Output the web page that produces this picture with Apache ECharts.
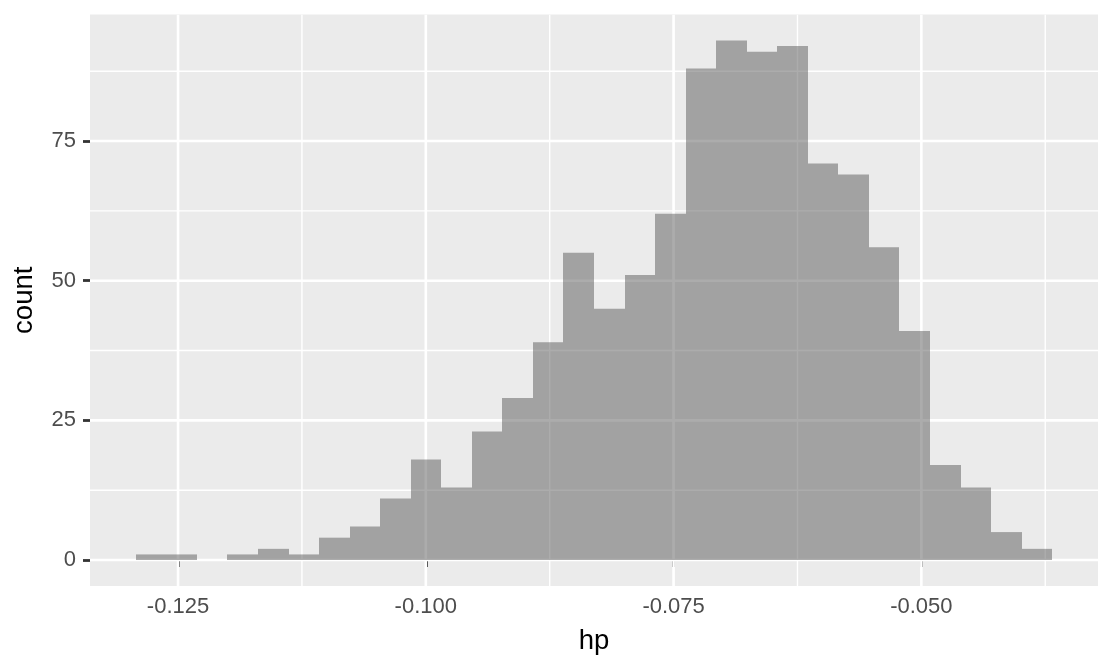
<!DOCTYPE html>
<html>
<head>
<meta charset="utf-8">
<script src="https://cdn.jsdelivr.net/npm/echarts@6/dist/echarts.min.js"></script>
<style>
  html, body { margin: 0; padding: 0; background: #ffffff; }
  #chart { width: 1113px; height: 672px; }
</style>
</head>
<body>
<div id="chart"></div>
<script>
// ---- data ----
const binStart = -0.12926;   // left edge of first bin
const binWidth = 0.003082;   // histogram bin width
const counts = [1, 1, 0, 1, 2, 1, 4, 6, 11, 18, 13, 23, 29, 39, 55, 45, 51, 62, 88, 93, 91, 92, 71, 69, 56, 41, 17, 13, 5, 2];
const xTicks = [-0.125, -0.100, -0.075, -0.050];
const xTickLabels = ['-0.125', '-0.100', '-0.075', '-0.050'];
const xMinorGrid = [-0.1125, -0.0875, -0.0625, -0.0375];
const yTicks = [0, 25, 50, 75];
const yTickLabels = ['0', '25', '50', '75'];
const yMinorGrid = [12.5, 37.5, 62.5, 87.5];

// ---- derived axis ranges (ggplot-style 5% expansion) ----
const binEnd = binStart + counts.length * binWidth;
const xPad = 0.05 * (binEnd - binStart);
const xMin = binStart - xPad, xMax = binEnd + xPad;
const yMaxData = Math.max(...counts);
const yMin = -0.05 * yMaxData, yMax = yMaxData * 1.05;

const histData = counts.map((c, i) => [binStart + i * binWidth, binStart + (i + 1) * binWidth, c]);

const gridData = [];
xTicks.forEach(v => gridData.push([v, 0, 1]));
xMinorGrid.forEach(v => gridData.push([v, 0, 0]));
yTicks.forEach(v => gridData.push([v, 1, 1]));
yMinorGrid.forEach(v => gridData.push([v, 1, 0]));

const chart = echarts.init(document.getElementById('chart'), null, { renderer: 'canvas' });

const FONT = 'Liberation Sans, Arial, sans-serif';

const option = {
  animation: false,
  backgroundColor: '#ffffff',
  grid: {
    left: 90, right: 15, top: 14.5, bottom: 86,
    show: true, backgroundColor: '#EBEBEB', borderWidth: 0
  },
  xAxis: {
    type: 'value',
    min: xMin, max: xMax,
    name: 'hp',
    nameLocation: 'middle',
    nameGap: 41,
    nameTextStyle: { fontSize: 27.5, color: '#000000', fontFamily: FONT },
    axisLine: { show: false },
    splitLine: { show: false },
    axisTick: {
      show: true, length: 7, inside: false,
      customValues: xTicks,
      lineStyle: { color: '#333333', width: 2.8 }
    },
    axisLabel: {
      customValues: xTicks,
      formatter: v => {
        const i = xTicks.findIndex(t => Math.abs(t - v) < 1e-9);
        return i >= 0 ? xTickLabels[i] : '';
      },
      fontSize: 22, color: '#4D4D4D', margin: 10,
      fontFamily: FONT
    }
  },
  yAxis: {
    type: 'value',
    min: yMin, max: yMax,
    name: 'count',
    nameLocation: 'middle',
    nameGap: 52,
    nameRotate: 90,
    nameTextStyle: { fontSize: 27.5, color: '#000000', fontFamily: FONT },
    axisLine: { show: false },
    splitLine: { show: false },
    axisTick: {
      show: true, length: 7, inside: false,
      customValues: yTicks,
      lineStyle: { color: '#333333', width: 2.8 }
    },
    axisLabel: {
      customValues: yTicks,
      formatter: v => {
        const i = yTicks.findIndex(t => Math.abs(t - v) < 1e-9);
        return i >= 0 ? yTickLabels[i] : '';
      },
      fontSize: 22, color: '#4D4D4D', margin: 14,
      fontFamily: FONT
    }
  },
  series: [
    {
      type: 'custom',
      name: 'gridlines',
      silent: true,
      z: 1,
      clip: true,
      data: gridData,
      renderItem: function (params, api) {
        const v = api.value(0), dir = api.value(1), major = api.value(2);
        const cs = params.coordSys;
        let shape;
        if (dir === 0) {
          const x = api.coord([v, 0])[0];
          shape = { x1: x, y1: cs.y, x2: x, y2: cs.y + cs.height };
        } else {
          const y = api.coord([xMin, v])[1];
          shape = { x1: cs.x, y1: y, x2: cs.x + cs.width, y2: y };
        }
        return {
          type: 'line',
          shape: shape,
          style: { stroke: '#FFFFFF', lineWidth: major ? 2.6 : 1.4 }
        };
      }
    },
    {
      type: 'custom',
      name: 'count',
      z: 2,
      data: histData,
      encode: { x: [0, 1], y: 2 },
      renderItem: function (params, api) {
        const c = api.value(2);
        if (!c) return null;
        const p0 = api.coord([api.value(0), 0]);
        const p1 = api.coord([api.value(1), c]);
        const xl = Math.round(p0[0]), xr = Math.round(p1[0]);
        return {
          type: 'rect',
          shape: { x: xl, y: p1[1], width: xr - xl, height: p0[1] - p1[1] },
          style: { fill: 'rgba(89,89,89,0.5)' }
        };
      }
    }
  ]
};

chart.setOption(option);
</script>
</body>
</html>
